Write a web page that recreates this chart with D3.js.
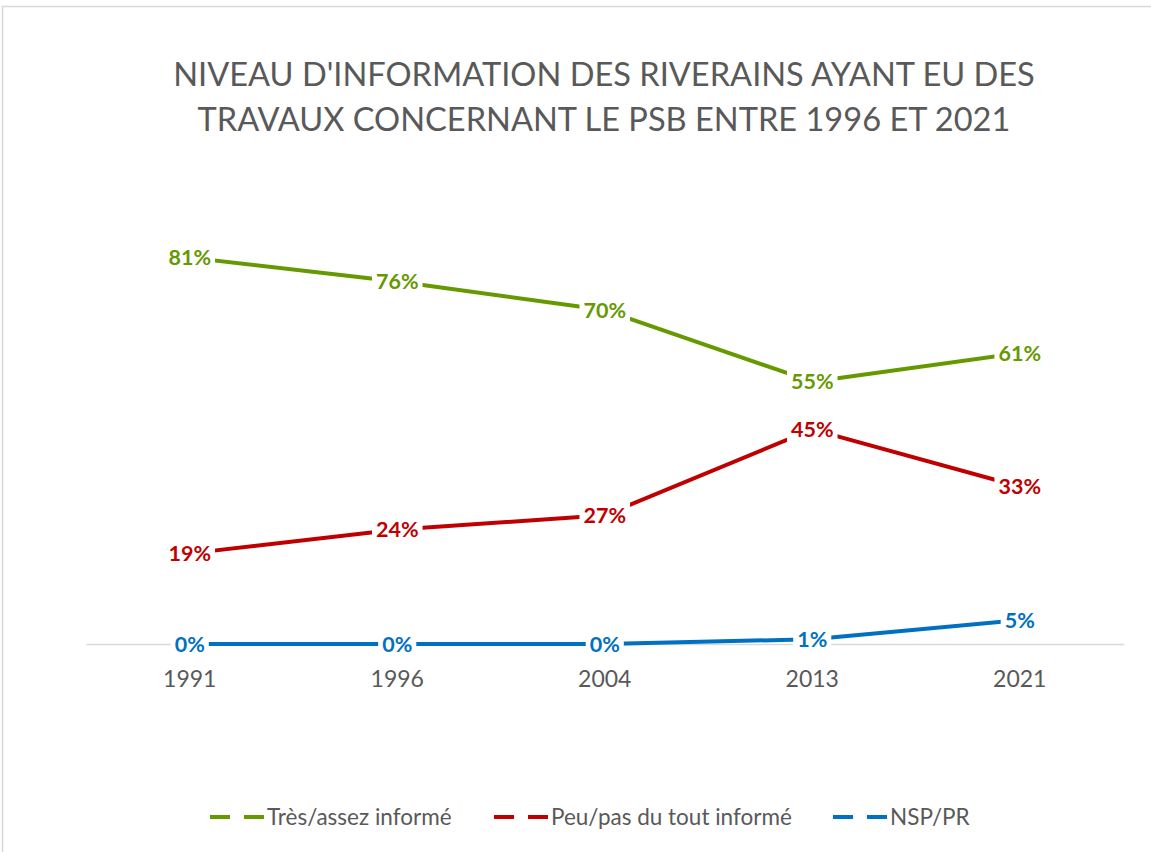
<!DOCTYPE html>
<html>
<head>
<meta charset="utf-8">
<script src="https://cdn.jsdelivr.net/npm/d3@7"></script>
<style>
  body { margin: 0; background: #fff; }
  svg { display: block; font-family: Lato, "Open Sans", sans-serif; }
</style>
</head>
<body>
<svg id="chart" width="1151" height="852"></svg>
<script>
var years = ['1991', '1996', '2004', '2013', '2021'];
var tres = [0.81, 0.76, 0.70, 0.55, 0.61];
var peu = [0.19, 0.24, 0.27, 0.45, 0.33];
var nsp = [0, 0, 0, 0.01, 0.05];
var seriesNames = ['Très/assez informé', 'Peu/pas du tout informé', 'NSP/PR'];
var seriesColors = ['#669900', '#c00000', '#0070c0'];
var titleLines = ["NIVEAU D'INFORMATION DES RIVERAINS AYANT EU DES",
                  "TRAVAUX CONCERNANT LE PSB ENTRE 1996 ET 2021"];

var svg = d3.select('#chart');

// chart area border
svg.append('rect')
  .attr('x', 2.5).attr('y', 6.5)
  .attr('width', 1200).attr('height', 900)
  .attr('fill', 'none')
  .attr('stroke', '#d9d9d9')
  .attr('stroke-width', 1.5);

// title
var title = svg.append('g');
titleLines.forEach(function(t, i) {
  title.append('text')
    .attr('x', 604)
    .attr('y', 86 + i * 45)
    .attr('text-anchor', 'middle')
    .attr('fill', '#595959')
    .style('font-size', '34px')
    .text(t);
});
// fit first line to ~862px wide
var w0 = title.select('text').node().getComputedTextLength();
title.selectAll('text').style('font-size', (34 * 862 / w0) + 'px');

var x = d3.scaleBand().domain(years).range([86, 1123.5]);
var y = d3.scaleLinear().domain([0, 1]).range([644, 167]);

// axis
var xAxis = svg.append('g')
  .attr('transform', 'translate(0,644)')
  .call(d3.axisBottom(x).tickSize(0).tickPadding(27));
xAxis.select('.domain').attr('stroke', '#d9d9d9').attr('stroke-width', 1.5);
xAxis.selectAll('text')
  .attr('fill', '#595959')
  .style('font-size', '23px')
  .style('font-family', 'Lato, sans-serif');

var series = [tres, peu, nsp];

var line = d3.line()
  .x(function(d, i) { return x(years[i]) + x.bandwidth() / 2; })
  .y(function(d) { return y(d); });

series.forEach(function(s, k) {
  svg.append('path')
    .datum(s)
    .attr('d', line)
    .attr('fill', 'none')
    .attr('stroke', seriesColors[k])
    .attr('stroke-width', 4)
    .attr('stroke-linejoin', 'round');
});

// data labels (white box behind, like Excel)
series.forEach(function(s, k) {
  s.forEach(function(v, i) {
    var g = svg.append('g')
      .attr('transform', 'translate(' + (x(years[i]) + x.bandwidth() / 2) + ',' + y(v) + ')');
    var bg = g.append('rect').attr('fill', '#fff');
    var t = g.append('text')
      .attr('text-anchor', 'middle')
      .attr('dy', '0.35em')
      .attr('fill', seriesColors[k])
      .style('font-size', '21.5px')
      .style('font-weight', 'bold')
      .text(Math.round(v * 100) + '%');
    var b = t.node().getBBox();
    bg.attr('x', b.x - 4).attr('y', b.y - 1)
      .attr('width', b.width + 8).attr('height', b.height + 2);
  });
});

// legend
var legendX = [210, 494, 833];
seriesNames.forEach(function(n, k) {
  var g = svg.append('g').attr('transform', 'translate(' + legendX[k] + ',817)');
  g.append('line')
    .attr('x1', 0).attr('x2', 54)
    .attr('stroke', seriesColors[k])
    .attr('stroke-width', 4)
    .attr('stroke-dasharray', '20,14');
  g.append('text')
    .attr('x', 57)
    .attr('dy', '0.35em')
    .attr('fill', '#595959')
    .style('font-size', '22.5px')
    .text(n);
});
</script>
</body>
</html>
